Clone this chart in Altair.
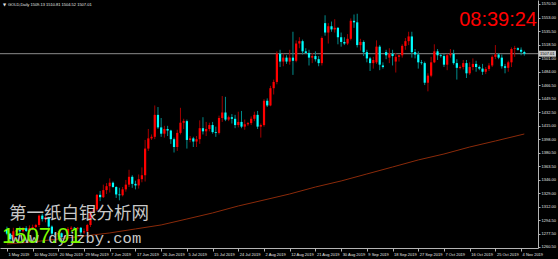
import json
import altair as alt
import pandas as pd

# ---------------- data ----------------
date_labels = ["1 May 2019", "10 May 2019", "20 May 2019", "29 May 2019", "7 Jun 2019",
               "17 Jun 2019", "26 Jun 2019", "5 Jul 2019", "15 Jul 2019", "24 Jul 2019",
               "2 Aug 2019", "12 Aug 2019", "21 Aug 2019", "30 Aug 2019", "9 Sep 2019",
               "18 Sep 2019", "27 Sep 2019", "7 Oct 2019", "16 Oct 2019", "25 Oct 2019",
               "4 Nov 2019"]
label_bars = [0, 8, 16, 24, 32, 40, 48, 56, 64, 72, 80, 88, 96, 104, 112, 120, 128, 136,
              144, 152, 160]

price_ticks = [1260.50, 1277.50, 1294.50, 1312.00, 1329.00, 1346.00, 1363.50, 1380.50,
               1398.00, 1415.00, 1432.50, 1449.50, 1466.50, 1484.00, 1501.00, 1518.50,
               1535.50, 1553.00, 1570.50]

opens = [1283.5, 1277.5, 1270.5, 1280.0, 1282.0, 1280.5, 1284.5, 1281.0, 1284.5, 1286.0,
         1288.5, 1300.5, 1296.0, 1298.5, 1286.5, 1277.5, 1276.5, 1278.0, 1273.0, 1274.5,
         1283.5, 1285.0, 1284.0, 1285.0, 1279.0, 1280.5, 1288.5, 1305.5, 1308.5, 1327.0,
         1324.0, 1333.0, 1338.0, 1342.5, 1337.0, 1327.5, 1326.5, 1334.0, 1340.0, 1350.0,
         1341.0, 1339.0, 1347.0, 1352.0, 1386.0, 1399.0, 1401.0, 1429.0, 1413.0, 1405.0,
         1411.0, 1409.0, 1398.0, 1388.0, 1406.0, 1419.0, 1421.0, 1397.0, 1399.0, 1395.0,
         1398.0, 1412.0, 1408.0, 1411.0, 1416.0, 1407.0, 1406.0, 1425.0, 1432.0, 1423.0,
         1426.0, 1424.0, 1416.0, 1420.0, 1414.0, 1417.0, 1418.5, 1424.0, 1429.0, 1414.0,
         1416.0, 1447.0, 1441.0, 1463.0, 1471.0, 1507.0, 1497.0, 1502.0, 1497.0, 1502.0,
         1498.0, 1520.0, 1523.0, 1510.0, 1508.0, 1502.0, 1504.0, 1500.0, 1495.0, 1546.0,
         1534.0, 1542.0, 1538.0, 1540.0, 1528.0, 1522.0, 1520.0, 1526.0, 1549.0, 1547.0,
         1518.0, 1522.0, 1509.0, 1501.0, 1495.0, 1496.0, 1516.0, 1492.0, 1509.0, 1502.0,
         1507.0, 1497.0, 1503.0, 1505.0, 1517.0, 1523.0, 1529.0, 1509.0, 1506.0, 1496.0,
         1495.0, 1470.0, 1479.0, 1496.0, 1510.0, 1505.0, 1504.0, 1493.0, 1505.0, 1507.0,
         1495.0, 1489.0, 1490.0, 1495.0, 1482.0, 1490.0, 1494.0, 1490.0, 1488.0, 1484.0,
         1487.5, 1492.0, 1503.0, 1506.0, 1502.0, 1491.0, 1489.0, 1496.0, 1513.0, 1514.0,
         1512.0, 1509.13]

highs = [1286.5, 1278.5, 1285.0, 1284.0, 1286.5, 1286.0, 1287.0, 1288.0, 1289.0, 1290.0,
         1302.0, 1303.0, 1300.0, 1299.0, 1288.0, 1279.0, 1281.0, 1279.0, 1275.5, 1286.0,
         1287.0, 1286.0, 1286.0, 1286.0, 1284.0, 1290.0, 1306.0, 1310.0, 1328.0, 1332.0,
         1340.0, 1342.0, 1348.0, 1344.0, 1338.0, 1336.0, 1337.0, 1346.0, 1359.0, 1352.0,
         1345.0, 1353.0, 1362.0, 1397.0, 1411.0, 1404.0, 1441.0, 1439.0, 1425.0, 1415.0,
         1415.0, 1410.0, 1400.0, 1410.0, 1438.0, 1424.0, 1423.0, 1402.0, 1401.0, 1402.0,
         1422.0, 1426.0, 1420.0, 1419.0, 1420.0, 1414.0, 1428.0, 1453.0, 1452.0, 1428.0,
         1430.0, 1429.0, 1433.0, 1434.0, 1423.0, 1420.0, 1427.0, 1433.0, 1434.0, 1418.0,
         1449.0, 1450.0, 1466.0, 1474.0, 1510.0, 1512.0, 1507.0, 1505.0, 1512.0, 1535.0,
         1524.0, 1528.0, 1525.0, 1514.0, 1512.0, 1508.0, 1510.0, 1504.0, 1529.0, 1556.0,
         1546.0, 1548.0, 1551.0, 1541.0, 1534.0, 1528.0, 1532.0, 1552.0, 1557.0, 1558.0,
         1526.0, 1524.0, 1512.0, 1503.0, 1503.0, 1524.0, 1518.0, 1496.0, 1512.0, 1514.0,
         1512.0, 1508.0, 1506.0, 1519.0, 1527.0, 1535.0, 1535.0, 1513.0, 1510.0, 1499.0,
         1497.0, 1482.0, 1503.0, 1519.0, 1513.0, 1507.0, 1507.0, 1507.0, 1513.0, 1512.0,
         1500.0, 1492.0, 1499.0, 1499.0, 1496.0, 1501.0, 1498.0, 1492.0, 1494.0, 1490.0,
         1495.0, 1505.0, 1518.0, 1508.0, 1506.0, 1494.0, 1498.0, 1515.0, 1517.0, 1515.0,
         1515.0, 1510.81]

lows = [1275.5, 1266.7, 1268.0, 1278.5, 1276.5, 1279.0, 1279.5, 1279.5, 1282.0, 1284.5,
        1286.0, 1293.0, 1292.0, 1285.0, 1275.0, 1275.5, 1273.5, 1268.5, 1271.0, 1273.0,
        1281.5, 1283.0, 1281.5, 1276.0, 1277.0, 1279.0, 1286.0, 1304.0, 1306.0, 1319.0,
        1323.0, 1328.0, 1330.0, 1336.0, 1323.0, 1320.0, 1325.0, 1331.0, 1337.0, 1336.0,
        1334.0, 1335.0, 1343.0, 1344.0, 1383.0, 1397.0, 1398.0, 1411.0, 1401.0, 1400.0,
        1402.0, 1392.0, 1381.0, 1383.0, 1404.0, 1411.0, 1386.0, 1394.0, 1388.0, 1388.0,
        1392.0, 1404.0, 1402.0, 1408.0, 1405.0, 1401.0, 1404.0, 1420.0, 1421.0, 1421.0,
        1418.0, 1412.0, 1413.0, 1412.0, 1410.0, 1415.0, 1416.0, 1421.0, 1411.0, 1400.0,
        1414.0, 1439.0, 1440.0, 1455.0, 1468.0, 1490.0, 1491.0, 1494.0, 1493.0, 1480.0,
        1496.0, 1514.0, 1506.0, 1507.0, 1492.0, 1495.0, 1497.0, 1491.0, 1492.0, 1530.0,
        1520.0, 1535.0, 1534.0, 1519.0, 1516.0, 1518.0, 1518.0, 1524.0, 1540.0, 1515.0,
        1511.0, 1504.0, 1496.0, 1485.0, 1488.0, 1494.0, 1486.0, 1488.0, 1500.0, 1495.0,
        1492.0, 1483.0, 1497.0, 1502.0, 1512.0, 1518.0, 1502.0, 1501.0, 1488.0, 1493.0,
        1467.0, 1459.0, 1477.0, 1495.0, 1499.0, 1502.0, 1490.0, 1486.0, 1502.0, 1493.0,
        1474.0, 1487.0, 1487.0, 1476.0, 1480.0, 1486.0, 1484.0, 1486.0, 1480.0, 1481.0,
        1485.0, 1490.0, 1500.0, 1500.0, 1488.0, 1482.0, 1484.0, 1490.0, 1503.0, 1511.0,
        1505.0, 1504.52]

closes = [1277.5, 1270.5, 1280.5, 1282.0, 1280.5, 1284.5, 1281.0, 1284.5, 1286.0, 1288.5,
          1300.5, 1296.0, 1298.5, 1286.5, 1277.5, 1276.5, 1278.0, 1273.0, 1274.5, 1283.5,
          1285.0, 1284.0, 1285.0, 1279.0, 1280.5, 1288.5, 1305.5, 1308.5, 1327.0, 1324.0,
          1333.0, 1338.0, 1342.5, 1337.0, 1327.5, 1326.5, 1334.0, 1340.0, 1350.0, 1341.0,
          1339.0, 1347.0, 1352.0, 1386.0, 1399.0, 1401.0, 1429.0, 1413.0, 1405.0, 1411.0,
          1409.0, 1398.0, 1388.0, 1406.0, 1419.0, 1421.0, 1397.0, 1399.0, 1395.0, 1398.0,
          1412.0, 1408.0, 1411.0, 1416.0, 1407.0, 1406.0, 1425.0, 1432.0, 1423.0, 1426.0,
          1424.0, 1416.0, 1420.0, 1414.0, 1417.0, 1418.5, 1424.0, 1429.0, 1414.0, 1416.0,
          1447.0, 1441.0, 1463.0, 1471.0, 1507.0, 1497.0, 1502.0, 1497.0, 1502.0, 1498.0,
          1520.0, 1523.0, 1510.0, 1508.0, 1502.0, 1504.0, 1500.0, 1495.0, 1527.0, 1534.0,
          1542.0, 1538.0, 1540.0, 1528.0, 1522.0, 1520.0, 1526.0, 1549.0, 1547.0, 1518.0,
          1522.0, 1509.0, 1501.0, 1495.0, 1499.0, 1516.0, 1493.0, 1490.0, 1505.0, 1507.0,
          1504.0, 1503.0, 1505.0, 1517.0, 1523.0, 1529.0, 1509.0, 1506.0, 1496.0, 1495.0,
          1470.0, 1479.0, 1496.0, 1510.0, 1505.0, 1504.0, 1493.0, 1505.0, 1507.0, 1495.0,
          1489.0, 1490.0, 1495.0, 1482.0, 1490.0, 1494.0, 1490.0, 1488.0, 1484.0, 1487.5,
          1492.0, 1503.0, 1506.0, 1502.0, 1491.0, 1489.0, 1496.0, 1513.0, 1514.0, 1512.0,
          1509.5, 1507.01]

ma_bars = [0, 8, 16, 24, 32, 40, 48, 56, 64, 72, 80, 88, 96, 104, 112, 120, 128, 136,
           144, 152, 161]
ma_values = [1264.3, 1266.9, 1270.7, 1274.5, 1278.4, 1283.5, 1288.6, 1296.2, 1303.9,
             1312.8, 1320.4, 1328.1, 1337.0, 1344.7, 1353.6, 1362.5, 1371.5, 1379.1,
             1388.0, 1395.7, 1404.6]

last_price = 1507.01
header_text = "GOLD,Daily  1509.13 1510.81 1504.52 1507.01"
clock_text = "08:39:24"
watermark_cn = "第一纸白银分析网"
watermark_url = "www.dyjzby.com"
big_price_text = "1507.01"

# ---------------- chart ----------------
n = min(len(opens), len(highs), len(lows), len(closes))
candles = pd.DataFrame({
    "i": list(range(n)),
    "open": opens[:n], "high": highs[:n], "low": lows[:n], "close": closes[:n],
})
ma_df = pd.DataFrame({"i": ma_bars, "ma": ma_values})
last_df = pd.DataFrame({"p": [last_price], "t": [f"{last_price:.2f}"]})
tick_df = pd.DataFrame({"i": label_bars[:1], "p": price_ticks[:1]})

W, H = 538, 248
AXC = "#b4b4b4"
LBL = "#e6e6e6"
FONT = "Liberation Sans"

xscale = alt.Scale(domain=[-0.6, 163.7], nice=False, zero=False)
yscale = alt.Scale(domain=[1259.2, 1575.5], nice=False, zero=False)

label_expr = json.dumps(date_labels) + "[round(datum.value / 8)]"

x_axis = alt.Axis(values=label_bars, labelExpr=label_expr, labelAlign="left",
                  labelBaseline="top", labelPadding=1, labelFontSize=4, labelFont=FONT,
                  labelColor=LBL, tickSize=3, tickColor=AXC, domainColor=AXC,
                  grid=False, title=None, labelOverlap=False, labelFlush=False,
                  labelOffset=1)
y_axis = alt.Axis(values=price_ticks, format=".2f", orient="right", labelAlign="left",
                  labelBaseline="middle", labelPadding=1, labelFontSize=4, labelFont=FONT,
                  labelColor=LBL, tickSize=2, tickColor=AXC, domainColor=AXC,
                  grid=False, title=None, labelOverlap=False, labelFlush=False)

X = lambda f: alt.X(f, scale=xscale, axis=x_axis)
Y = lambda f: alt.Y(f, scale=yscale, axis=y_axis)

up = alt.datum.close >= alt.datum.open

# invisible layer that carries the axes
axes_layer = alt.Chart(tick_df).mark_point(opacity=0, size=0).encode(
    x=X("i:Q"), y=Y("p:Q"))

wicks = alt.Chart(candles).mark_rule(strokeWidth=1).encode(
    x=X("i:Q"), y=Y("low:Q"), y2="high:Q",
    color=alt.condition(up, alt.value("#a00000"), alt.value("#008b8b")),
)

bodies = alt.Chart(candles).transform_calculate(
    c2="datum.close == datum.open ? datum.open + 0.4 : datum.close"
).mark_bar(size=2.2).encode(
    x=X("i:Q"), y=Y("open:Q"), y2="c2:Q",
    color=alt.condition(up, alt.value("#ff0000"), alt.value("#00ffff")),
)

ma_line = alt.Chart(ma_df).mark_line(color="#8a2a0a", strokeWidth=1).encode(
    x=X("i:Q"), y=Y("ma:Q"),
)

hline = alt.Chart(last_df).mark_rule(color="#8c8c8c", strokeWidth=1).encode(
    y=Y("p:Q"),
)

price_box = alt.Chart(last_df).mark_tick(orient="horizontal", thickness=6, size=17,
                                         color="#c8c8c8", opacity=1).encode(
    x=alt.value(547.5), y=Y("p:Q"),
)
price_lbl = alt.Chart(last_df).mark_text(fontSize=4, font=FONT, color="#000000",
                                         align="left", baseline="middle").encode(
    x=alt.value(540), y=Y("p:Q"), text="t:N",
)


def label(text, x, y, **kw):
    return alt.Chart(pd.DataFrame({"t": [text]})).mark_text(**kw).encode(
        x=alt.value(x), y=alt.value(y), text="t:N")


header_icon = label("▼", 3, 5, fontSize=4, font="DejaVu Sans", color=LBL,
                    align="left", baseline="middle")
header = label(header_text, 8, 5, fontSize=4, font=FONT, color=LBL,
               align="left", baseline="middle")
clock = label(clock_text, 537, 26, fontSize=20, font=FONT, color="#ff0000",
              align="right", baseline="alphabetic")
wm_cn = label(watermark_cn, 9, 214, fontSize=17.5, font="Noto Sans CJK SC",
              color="#c8c8c8", align="left", baseline="middle")
wm_url = label(watermark_url, 11, 243, fontSize=15.5, font="Liberation Mono",
               color="#c8c8c8", align="left", baseline="alphabetic")
big_price = label(big_price_text, 2, 243, fontSize=22, font=FONT, color="#7cfc00",
                  align="left", baseline="alphabetic")

chart = alt.layer(
    axes_layer, hline, ma_line, wicks, bodies, price_box, price_lbl,
    header_icon, header, clock, wm_cn, wm_url, big_price,
).properties(
    width=W, height=H,
    padding={"left": 0, "top": 0, "right": 20, "bottom": 11},
    autosize=alt.AutoSizeParams(type="none"),
    background="#000000",
).configure_view(stroke=None)

chart.save("out.html", embed_options={"renderer": "svg", "actions": False})
